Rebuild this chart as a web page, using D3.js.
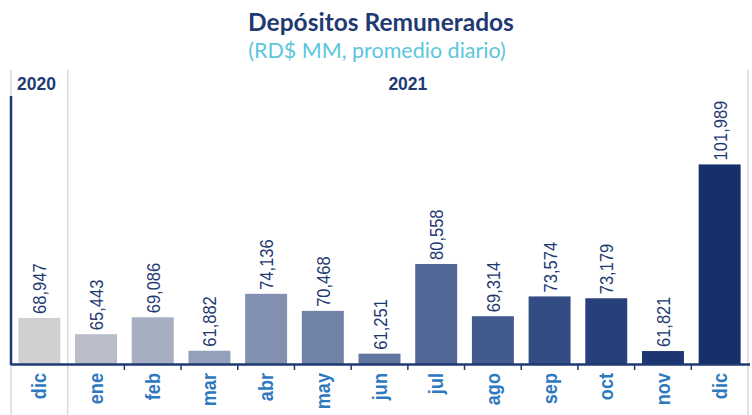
<!DOCTYPE html>
<html><head><meta charset="utf-8">
<script src="https://cdn.jsdelivr.net/npm/d3@7"></script>
<style>body{margin:0;background:#fff}svg{display:block}</style>
</head><body>
<script>
const months = ["dic","ene","feb","mar","abr","may","jun","jul","ago","sep","oct","nov","dic"];
const values = [68947,65443,69086,61882,74136,70468,61251,80558,69314,73574,73179,61821,101989];
const colors = ["#d0d0d0","#b9bdc9","#a6aec2","#93a0ba","#8291b1","#7082a8","#61769f","#516897","#425a8d","#334c84","#273f7a","#1d3570","#15306b"];
const years = [{label:"2020", from:0, to:1},{label:"2021", from:1, to:13}];
const title = "Depósitos Remunerados";
const subtitle = "(RD$ MM, promedio diario)";

const W=752,H=415;
const svg=d3.select("body").append("svg").attr("width",W).attr("height",H);
const idx=d3.range(values.length);
const x=d3.scaleBand().domain(idx).range([11,748]).paddingInner(0.26).paddingOuter(0.13);
const y=d3.scaleLinear().domain([59030,116500]).range([364,97]);
const step=x.step();
const edge=i=>x.range()[0]+i*step;

// title
svg.append("text").attr("x",381).attr("y",31).attr("text-anchor","middle")
  .attr("font-family","Lato, 'Open Sans', sans-serif").attr("font-weight","bold")
  .attr("font-size",24.5).attr("fill","#1f3a73").text(title);
svg.append("text").attr("x",377).attr("y",58).attr("text-anchor","middle")
  .attr("font-family","Lato, 'Open Sans', sans-serif")
  .attr("font-size",21.5).attr("fill","#5cc6dc").text(subtitle);

// grey separators
[0,1,13].forEach(i=>{
  svg.append("line").attr("x1",edge(i)).attr("x2",edge(i)).attr("y1",70).attr("y2",415)
    .attr("stroke","#d9d9d9").attr("stroke-width",1.5);
});

// year labels
svg.selectAll(".yr").data(years).join("text")
  .attr("x",d=> d.from===0 ? edge(0)+6 : (edge(d.from)+edge(d.to))/2)
  .attr("text-anchor",d=>d.from===0?"start":"middle")
  .attr("y",90).attr("font-family","'Liberation Sans', Arial, sans-serif")
  .attr("font-weight","bold").attr("font-size",17.5).attr("fill","#1f3a73").text(d=>d.label);

// bars
svg.selectAll(".bar").data(idx).join("rect")
  .attr("x",i=>x(i)).attr("width",x.bandwidth())
  .attr("y",i=>y(values[i])).attr("height",i=>y.range()[0]-y(values[i]))
  .attr("fill",i=>colors[i]);

// value labels
svg.selectAll(".val").data(idx).join("text")
  .attr("transform",i=>`translate(${x(i)+x.bandwidth()/2+7},${y(values[i])-4}) rotate(-90) scale(0.87,1)`)
  .attr("font-family","'Liberation Sans', Arial, sans-serif").attr("font-size",19)
  .attr("fill","#1f3a73").text(i=>d3.format(",")(values[i]));

// axes
svg.append("line").attr("x1",edge(0)).attr("x2",edge(0)).attr("y1",96).attr("y2",365)
  .attr("stroke","#1f3a73").attr("stroke-width",2.5);
svg.append("line").attr("x1",edge(0)).attr("x2",750).attr("y1",364.5).attr("y2",364.5)
  .attr("stroke","#1f3a73").attr("stroke-width",2.5);
d3.range(2,13).forEach(i=>{
  svg.append("line").attr("x1",edge(i)).attr("x2",edge(i)).attr("y1",364).attr("y2",370)
    .attr("stroke","#1f3a73").attr("stroke-width",1.5);
});

// category labels
svg.selectAll(".cat").data(idx).join("text")
  .attr("transform",i=>`translate(${x(i)+x.bandwidth()/2+7},373) rotate(-90) scale(0.93,1)`)
  .attr("text-anchor","end")
  .attr("font-family","'Liberation Sans', Arial, sans-serif").attr("font-weight","bold")
  .attr("font-size",19.5).attr("fill","#2e78bf").text(i=>months[i]);
</script>
</body></html>
